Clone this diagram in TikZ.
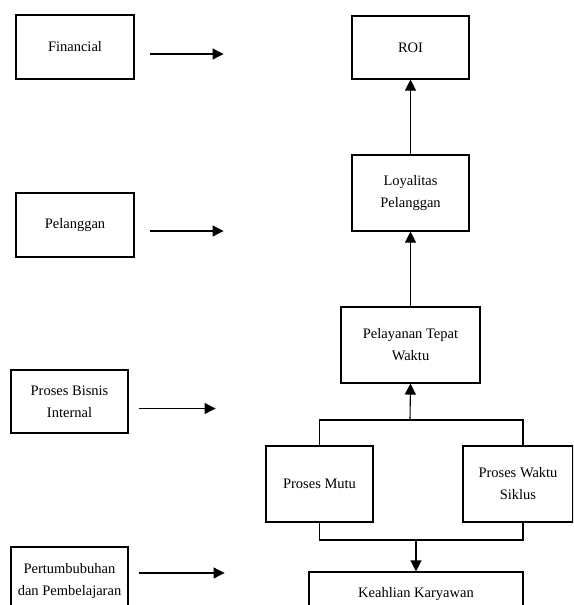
\documentclass[tikz,border=0pt]{standalone}
\usepackage{fontspec}
\setmainfont{Liberation Serif}
\usetikzlibrary{arrows.meta,calc}

\begin{document}
\begin{tikzpicture}[x=1pt,y=-1pt,line width=1.1pt,
	box/.style={draw,align=center,inner sep=2pt,font=\fontsize{14.5}{22}\selectfont},
	arr/.style={-{Triangle[length=11pt,width=11pt]}}]
	\clip (0,0) rectangle (573,605);
	% perspectives
	\node[box,minimum width=118,minimum height=64] (fin) at (75,47) {Financial};
	\node[box,minimum width=118,minimum height=64] (pel) at (75,225) {Pelanggan};
	\node[box,minimum width=117,minimum height=63] (pbi) at (69.5,401.5) {Proses Bisnis\\Internal};
	\node[box,minimum width=117,minimum height=68] (tumb) at (69.5,581) {Pertumbubuhan\\dan Pembelajaran};
	\draw[arr] ($(fin.east)+(15,7)$) -- ++(74,0);
	\draw[arr] ($(pel.east)+(15,6)$) -- ++(74,0);
	\draw[arr] ($(pbi.east)+(10,7)$) -- ++(77,0);
	\draw[arr] ($(tumb.east)+(10,-8)$) -- ++(86,0);
	% measures
	\node[box,minimum width=117,minimum height=63] (roi) at (410.5,47.5) {ROI};
	\node[box,minimum width=117,minimum height=76] (loy) at (410.5,193) {Loyalitas\\Pelanggan};
	\node[box,minimum width=139,minimum height=76] (pty) at (410.5,345) {Pelayanan Tepat\\Waktu};
	\node[box,minimum width=107,minimum height=76] (mutu) at (319.5,484) {Proses Mutu};
	\node[box,minimum width=110,minimum height=76] (waktu) at (518,484) {Proses Waktu\\Siklus};
	\node[box,minimum width=214,minimum height=44] (kea) at (416,594) {Keahlian Karyawan};
	\coordinate (jtop) at (410,420);
	\coordinate (jbot) at (416,540);
	\draw[arr] (loy.north) -- (roi.south);
	\draw[arr] (pty.north) -- (loy.south);
	\draw (mutu.north) |- (jtop) -| ([xshift=5]waktu.north);
	\draw[arr] (jtop) -- (pty.south);
	\draw (mutu.south) |- (jbot) -| ([xshift=5]waktu.south);
	\draw[arr] (jbot) -- (kea.north);
\end{tikzpicture}
\end{document}
